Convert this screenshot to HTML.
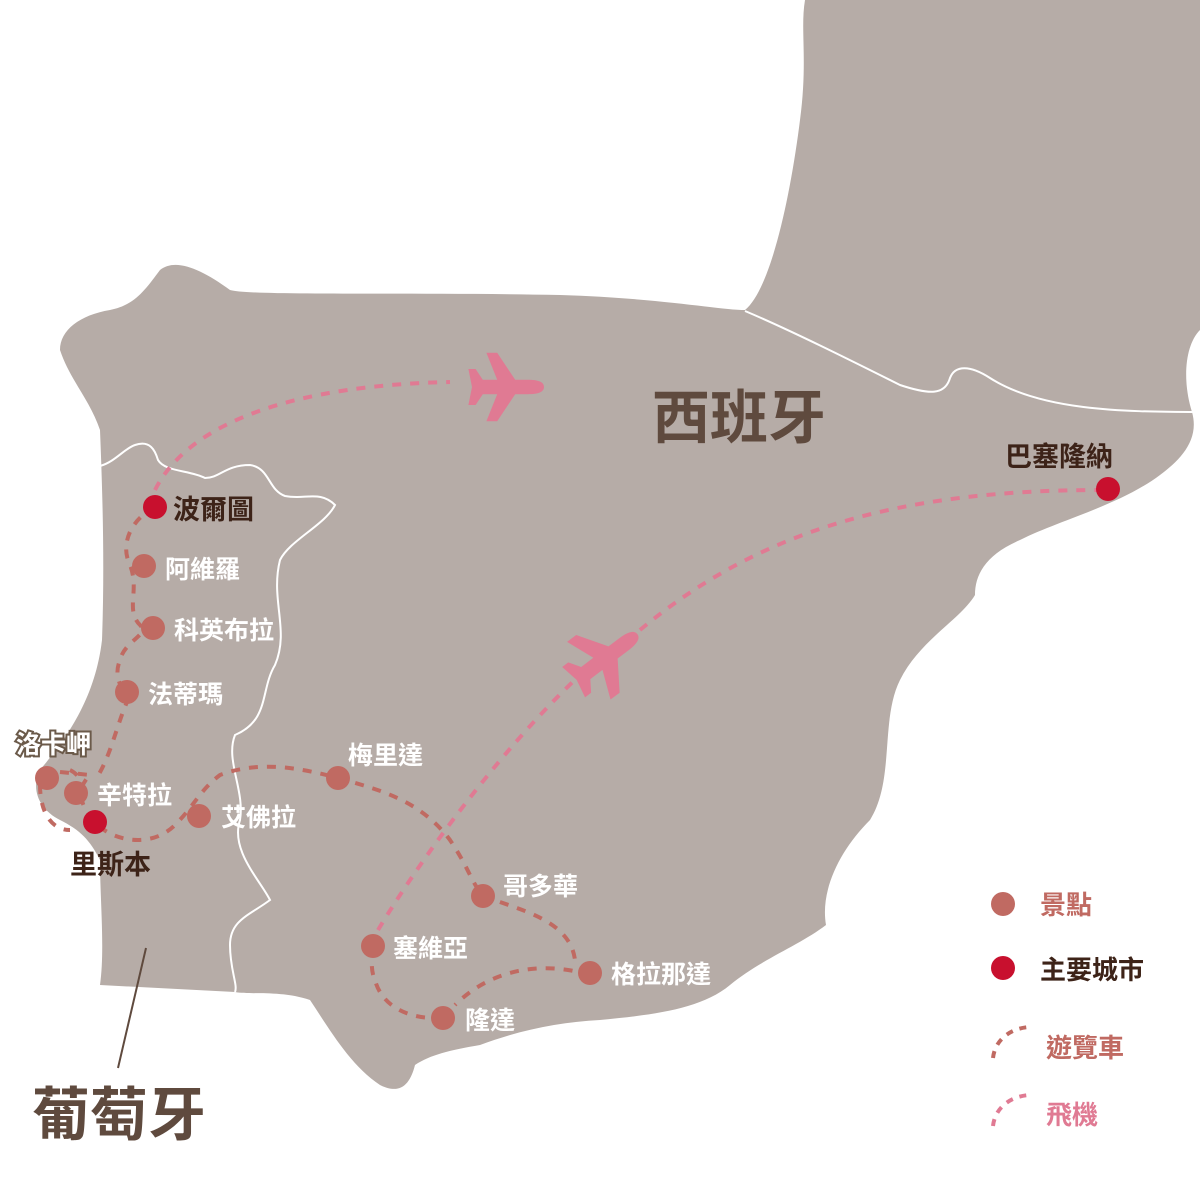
<!DOCTYPE html>
<html><head><meta charset="utf-8"><style>
body{margin:0;background:#fff}
svg{display:block}
text{font-family:"Liberation Sans","Noto Sans CJK TC",sans-serif;font-weight:bold}
</style></head><body>
<svg width="1200" height="1200" viewBox="0 0 1200 1200">
<defs>
<g id="plane"><path d="M40 0 C40 -7 30 -8 22 -8 L8 -8 L-12 -38 L-24 -38 L-12 -8 L-28 -8 L-36 -20 L-44 -20 L-40 0 L-44 20 L-36 20 L-28 8 L-12 8 L-24 38 L-12 38 L8 8 L22 8 C30 8 40 7 40 0Z" fill="#e07a93"/></g>
</defs>
<path fill="#b6aca7" d="M805 0 L1200 0 L1200 330 C1185 345 1182 380 1192 412 C1200 440 1180 460 1160 475 C1120 505 1060 520 1020 540 C985 555 975 575 975 595 C960 620 920 640 900 680 C880 720 895 780 870 820 C840 850 820 890 826 925 C800 945 760 960 730 985 C700 1010 650 1015 600 1020 C560 1022 520 1030 480 1045 C450 1050 430 1055 415 1065 C410 1085 400 1095 380 1085 C350 1065 330 1030 310 1000 C280 990 250 995 235 992 L100 985 C105 950 100 900 100 860 C90 840 80 830 60 820 C40 810 30 790 40 770 C65 740 95 700 102 640 C105 560 102 480 100 430 C90 400 70 380 60 350 C60 330 80 315 110 310 C135 305 145 290 160 270 C175 258 200 268 230 290 C250 296 400 292 560 295 C660 298 720 310 745 310 C770 290 790 200 800 120 C808 60 800 30 805 0Z"/>
<g fill="none" stroke="#fff" stroke-width="2">
<path d="M745 311 C790 330 850 360 900 385 C930 395 945 395 950 378 C955 365 970 365 990 378 C1040 410 1120 412 1198 412"/>
<path d="M100 466 C115 462 125 448 135 445 C150 440 155 450 158 460 C165 472 190 470 205 478 C220 478 225 465 250 465 C270 468 268 490 285 496 C305 500 320 490 335 505 C325 525 290 540 280 560 C270 600 290 630 275 665 C260 690 270 720 235 735 C225 760 245 790 240 820 C230 850 260 880 270 900 C250 915 230 920 230 945 C230 970 238 985 235 992"/>
</g>
<g fill="none" stroke="#c06a62" stroke-width="4" stroke-dasharray="9 9">
<path d="M155 507 C130 520 120 545 130 565 C140 590 125 610 140 625 C150 635 125 640 120 660 C112 680 125 690 128 700 C118 720 110 760 95 780"/>
<path d="M70 770 C80 775 85 785 80 795"/>
<path d="M40 785 C40 810 50 830 70 830"/>
<path d="M60 772 L90 775 C75 790 80 805 95 822 C110 840 150 850 175 825 C195 805 200 790 220 775 C260 760 300 768 338 778 C380 790 420 800 450 840 C470 870 470 880 483 896"/>
<path d="M483 896 C520 910 570 920 575 960 M590 975 C540 960 490 970 455 1005 M443 1018 C400 1020 380 1000 375 980 C370 970 372 955 373 945"/>
</g>
<g fill="none" stroke="#e07a93" stroke-width="4" stroke-dasharray="9 9">
<path d="M155 490 C190 420 300 385 450 382"/>
<path d="M378 930 C420 860 500 750 580 675 M640 630 C760 530 900 490 1100 490"/>
</g>
<use href="#plane" transform="translate(508,387) scale(0.9)"/>
<use href="#plane" transform="translate(607,657) rotate(-37) scale(0.95)"/>
<g fill="#c06a62">
<circle cx="144" cy="566" r="12"/><circle cx="153" cy="628" r="12"/><circle cx="127" cy="692" r="12"/>
<circle cx="47" cy="778" r="12"/><circle cx="76" cy="793" r="12"/><circle cx="199" cy="816" r="12"/>
<circle cx="338" cy="778" r="12"/><circle cx="483" cy="896" r="12"/><circle cx="373" cy="946" r="12"/>
<circle cx="590" cy="973" r="12"/><circle cx="443" cy="1018" r="12"/><circle cx="1003" cy="904" r="12"/>
</g>
<g fill="#c8102e">
<circle cx="155" cy="507" r="12"/><circle cx="95" cy="822" r="12"/><circle cx="1108" cy="489" r="12"/><circle cx="1003" cy="968" r="12"/>
</g>
<g font-size="25" fill="#fff">
<text x="165" y="578">阿維羅</text><text x="174" y="639">科英布拉</text><text x="148" y="703">法蒂瑪</text>
<text x="97" y="804">辛特拉</text><text x="221" y="826">艾佛拉</text><text x="348" y="764">梅里達</text>
<text x="503" y="895">哥多華</text><text x="393" y="957">塞維亞</text><text x="611" y="983">格拉那達</text><text x="465" y="1029">隆達</text>
</g>
<text x="16" y="753" font-size="25" fill="#fff" stroke="#6b5a4a" stroke-width="4" paint-order="stroke">洛卡岬</text>
<g font-size="27" fill="#3d2318">
<text x="173" y="519">波爾圖</text><text x="70" y="874">里斯本</text><text x="1005" y="466">巴塞隆納</text>
</g>
<text x="652" y="438" font-size="58" fill="#5f4a3e">西班牙</text>
<text x="32" y="1135" font-size="58" fill="#5f4a3e">葡萄牙</text>
<line x1="146" y1="948" x2="118" y2="1068" stroke="#5f4a3e" stroke-width="2"/>
<text x="1040" y="914" font-size="26" fill="#c06a62">景點</text>
<text x="1040" y="979" font-size="26" fill="#3d2318">主要城市</text>
<text x="1046" y="1057" font-size="26" fill="#c06a62">遊覽車</text>
<text x="1046" y="1124" font-size="26" fill="#e07a93">飛機</text>
<path d="M993 1058 C995 1040 1010 1028 1030 1027" fill="none" stroke="#c06a62" stroke-width="4" stroke-dasharray="7 7"/>
<path d="M993 1126 C995 1108 1010 1096 1030 1095" fill="none" stroke="#e07a93" stroke-width="4" stroke-dasharray="7 7"/>
</svg>
</body></html>
